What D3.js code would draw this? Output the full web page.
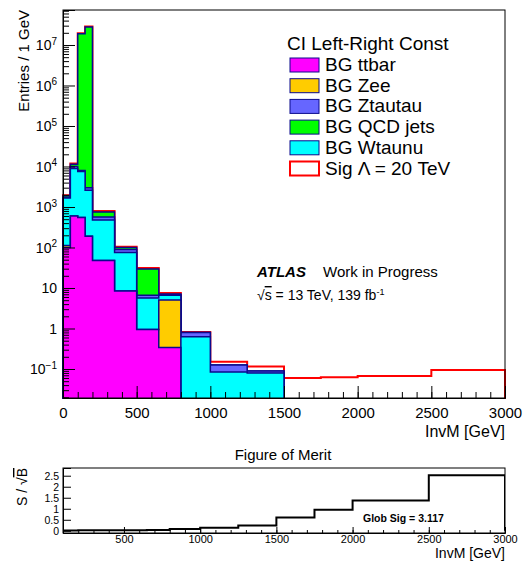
<!DOCTYPE html>
<html>
<head>
<meta charset="utf-8">
<script src="https://cdn.jsdelivr.net/npm/d3@7"></script>
<style>
  body { margin: 0; background: #fff; }
  svg { font-family: "Liberation Sans", Arial, sans-serif; }
</style>
</head>
<body>
<div id="chart"></div>
<script>
// bin edges (GeV) shared by the stack and the signal line
const binEdges = [0, 50, 100, 150, 200, 350, 500, 650, 800, 1000, 1250, 1500, 1750, 2000, 2500, 3000];

// background contributions per bin, stack order bottom -> top
const ttbar   = [100, 600, 550, 190, 48, 8.4, 0.95, 0.34, 0, 0, 0, 0, 0, 0, 0];
const zee     = [12, 0, 0, 0, 0, 0, 0, 4.7, 0, 0, 0, 0, 0, 0, 0];
const wtaunu  = [1560, 8300, 6950, 2400, 430, 67, 4.7, 1.6, 0.63, 0.084, 0.08, 0, 0, 0, 0];
const ztautau = [0, 1100, 500, 400, 86, 14, 1.0, 0.4, 0.17, 0.042, 0.009, 0, 0, 0, 0];
const qcd     = [200, 1300, 1.9e7, 2.8e7, 184, 11, 22.7, 0, 0, 0, 0, 0, 0, 0, 0];

// signal + background, drawn as a line
const sigLine = [1950, 11800, 1.95e7, 2.85e7, 795, 105, 31, 7.5, 0.82, 0.15, 0.115, 0.06, 0.063, 0.067, 0.095];

// figure of merit S/sqrt(B) per bin
const fomValues = [0, 0, 0.01, 0.01, 0.02, 0.02, 0.03, 0.04, 0.08, 0.14, 0.24, 0.6, 0.95, 1.38, 2.52];

const logTicks = [0.1, 1, 10, 100, 1e3, 1e4, 1e5, 1e6, 1e7];
const xTicks = [0, 500, 1000, 1500, 2000, 2500, 3000];
const fomTicks = [0, 0.5, 1, 1.5, 2, 2.5];

const stackNames  = ["BG ttbar", "BG Zee", "BG Wtaunu", "BG Ztautau", "BG QCD jets"];
const stackColors = ["#ff00ff", "#ffcc00", "#00ffff", "#6666ff", "#00ff00"];
const legendOrder = ["BG ttbar", "BG Zee", "BG Ztautau", "BG QCD jets", "BG Wtaunu"];

const W = 527, H = 561;
const outline = "#0a0a8c";

const svg = d3.select("#chart").append("svg")
    .attr("width", W).attr("height", H);
const defs = svg.append("defs");

// ---------- main pad ----------
const m = { left: 63, top: 10, right: 22, bottom: 163 };
const pw = W - m.left - m.right;
const ph = H - m.top - m.bottom;

const x = d3.scaleLinear().domain([0, 3000]).range([0, pw]);
const y = d3.scaleLog().domain([Math.pow(10, -1.716), Math.pow(10, 7.864)]).range([ph, 0]);

const g = svg.append("g").attr("transform", `translate(${m.left},${m.top})`);

defs.append("clipPath").attr("id", "clipMain")
  .append("rect").attr("x", -1).attr("y", 0).attr("width", pw + 2).attr("height", ph + 1);

const layers = [ttbar, zee, wtaunu, ztautau, qcd];
const cum = [];
layers.forEach((arr, i) => {
  cum.push(arr.map((v, j) => v + (i > 0 ? cum[i - 1][j] : 0)));
});

const yc = v => v > y.domain()[0] ? y(v) : ph + 2;

function stepPath(vals, xs, ys, base) {
  let p = `M${xs(binEdges[0])},${base}`;
  vals.forEach((v, j) => {
    p += `L${xs(binEdges[j])},${ys(v)}L${xs(binEdges[j + 1])},${ys(v)}`;
  });
  p += `L${xs(binEdges[binEdges.length - 1])},${base}`;
  return p;
}

const plot = g.append("g").attr("clip-path", "url(#clipMain)");

// signal line first, stack drawn over it
plot.append("path")
    .attr("d", stepPath(sigLine, x, yc, ph + 2))
    .attr("fill", "none")
    .attr("stroke", "#ff0000")
    .attr("stroke-width", 2);

// stack: highest cumulative first
for (let i = layers.length - 1; i >= 0; i--) {
  plot.append("path")
      .attr("d", stepPath(cum[i], x, yc, ph + 2) + "Z")
      .attr("fill", stackColors[i])
      .attr("stroke", outline)
      .attr("stroke-width", 1.5);
}

// frame
g.append("rect")
    .attr("width", pw).attr("height", ph)
    .attr("fill", "none").attr("stroke", "#000").attr("stroke-width", 1);

// y axis
const minorLog = [];
for (let e = -2; e <= 7; e++) for (let k = 2; k <= 9; k++) {
  const v = k * Math.pow(10, e);
  if (v >= y.domain()[0] && v <= y.domain()[1]) minorLog.push(v);
}
g.append("g").call(d3.axisLeft(y).tickValues(minorLog).tickSize(-6).tickFormat(""))
  .call(a => a.select(".domain").remove());
const yAx = g.append("g").call(d3.axisLeft(y).tickValues(logTicks).tickSize(-12).tickPadding(6).tickFormat(""));
yAx.select(".domain").attr("stroke", "#000");
yAx.selectAll(".tick").each(function (d) {
  const t = d3.select(this).select("text")
      .attr("font-size", 14).attr("fill", "#000").attr("dy", "0.35em");
  const e = Math.round(Math.log10(d));
  if (e === 0) t.text("1");
  else if (e === 1) t.text("10");
  else {
    t.append("tspan").text("10");
    t.append("tspan").attr("dy", "-0.55em").attr("font-size", 10).text(e < 0 ? "\u2212" + (-e) : e);
  }
});

g.append("text")
    .attr("transform", "rotate(-90)")
    .attr("x", 0).attr("y", -34)
    .attr("text-anchor", "end")
    .attr("font-size", 15)
    .text("Entries / 1 GeV");

// x axis
g.append("g").attr("transform", `translate(0,${ph})`)
  .call(d3.axisBottom(x).tickValues(d3.range(0, 3001, 100)).tickSize(-6).tickFormat(""))
  .call(a => a.select(".domain").remove());
g.append("g").attr("transform", `translate(0,${ph})`)
  .call(d3.axisBottom(x).tickValues(xTicks).tickSize(-12).tickPadding(6).tickFormat(d3.format("d")))
  .call(a => a.selectAll("text").attr("font-size", 15).attr("fill", "#000").attr("dy", "0.95em"))
  .call(a => a.select(".domain").attr("stroke", "#000"));

g.append("text")
    .attr("x", pw).attr("y", ph + 39)
    .attr("text-anchor", "end")
    .attr("font-size", 16)
    .text("InvM [GeV]");

// legend
const leg = svg.append("g");
leg.append("text").attr("x", 287).attr("y", 50).attr("font-size", 19).text("CI Left-Right Const");
const rows = legendOrder.map(n => ({ name: n, color: stackColors[stackNames.indexOf(n)], line: outline }))
  .concat([{ name: "Sig \u039B = 20 TeV", color: "#fff", line: "#ff0000" }]);
rows.forEach((r, i) => {
  const cy = 65 + i * 20.7;
  leg.append("rect").attr("x", 290).attr("y", cy - 7).attr("width", 29).attr("height", 14)
    .attr("fill", r.color).attr("stroke", r.line).attr("stroke-width", r.line === "#ff0000" ? 2 : 1);
  leg.append("text").attr("x", 325).attr("y", cy + 6).attr("font-size", 19).text(r.name);
});

// ATLAS label
svg.append("text").attr("x", 257).attr("y", 277).attr("font-size", 15)
    .attr("font-weight", "bold").attr("font-style", "italic").text("ATLAS");
svg.append("text").attr("x", 323).attr("y", 277).attr("font-size", 15).text("Work in Progress");
const lumi = svg.append("text").attr("x", 257).attr("y", 300).attr("font-size", 14);
lumi.append("tspan").text("\u221A");
lumi.append("tspan").style("text-decoration", "overline").text("s");
lumi.append("tspan").text(" = 13 TeV, 139 fb");
lumi.append("tspan").attr("dy", "-0.6em").attr("font-size", 9).text("-1");

// ---------- lower pad: figure of merit ----------
const lm = { left: 63, top: 468, width: 442, height: 65 };
const fx = d3.scaleLinear().domain([100, 3000]).range([0, lm.width]);
const fy = d3.scaleLinear().domain([-0.1, 2.85]).range([lm.height, 0]);
const lg = svg.append("g").attr("transform", `translate(${lm.left},${lm.top})`);

svg.append("text").attr("x", 283).attr("y", 460).attr("text-anchor", "middle")
    .attr("font-size", 15).text("Figure of Merit");

defs.append("clipPath").attr("id", "clipLow")
  .append("rect").attr("width", lm.width).attr("height", lm.height);

lg.append("g").attr("clip-path", "url(#clipLow)").append("path")
    .attr("d", stepPath(fomValues, fx, fy, fy(0)))
    .attr("fill", "none").attr("stroke", "#000").attr("stroke-width", 2);

lg.append("rect").attr("width", lm.width).attr("height", lm.height)
    .attr("fill", "none").attr("stroke", "#000");

lg.append("g").attr("transform", `translate(0,${lm.height})`)
  .call(d3.axisBottom(fx).tickValues(d3.range(100, 3001, 100)).tickSize(-3).tickFormat(""))
  .call(a => a.select(".domain").remove());
lg.append("g").attr("transform", `translate(0,${lm.height})`)
  .call(d3.axisBottom(fx).tickValues(xTicks.slice(1)).tickSize(-6).tickPadding(2).tickFormat(d3.format("d")))
  .call(a => a.selectAll("text").attr("font-size", 11).attr("fill", "#000"))
  .call(a => a.select(".domain").attr("stroke", "#000"));

lg.append("g")
  .call(d3.axisLeft(fy).tickValues(fomTicks).tickSize(-8).tickPadding(4).tickFormat(d => d))
  .call(a => a.selectAll("text").attr("font-size", 10.5).attr("fill", "#000"))
  .call(a => a.select(".domain").attr("stroke", "#000"));

const sl = lg.append("text").attr("transform", "rotate(-90)")
    .attr("x", 0).attr("y", -36).attr("text-anchor", "end").attr("font-size", 14);
sl.append("tspan").text("S / \u221A");
sl.append("tspan").style("text-decoration", "overline").text("B");

lg.append("text").attr("x", 300).attr("y", 54)
    .attr("font-size", 10.5).attr("font-weight", "bold").text("Glob Sig = 3.117");

svg.append("text").attr("x", 505).attr("y", 558).attr("text-anchor", "end")
    .attr("font-size", 14).text("InvM [GeV]");
</script>
</body>
</html>
